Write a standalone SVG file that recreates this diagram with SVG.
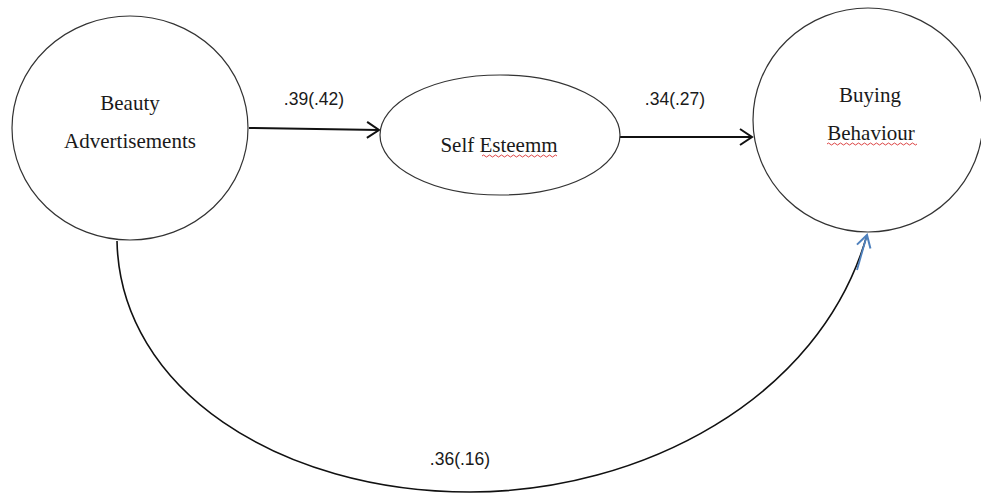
<svg xmlns="http://www.w3.org/2000/svg" width="981" height="493" viewBox="0 0 981 493">
<defs>
<style>
.node{fill:#fff;stroke:#333;stroke-width:1.2}
.ntext{font-family:"Liberation Serif","Times New Roman",serif;font-size:21px;fill:#1a1a1a;text-anchor:middle}
.lbl{font-family:"Liberation Sans",Arial,sans-serif;font-size:17.5px;fill:#1a1a1a;text-anchor:middle}
.conn{fill:none;stroke:#111;stroke-width:2}
.curve{fill:none;stroke:#111;stroke-width:1.6}
.squig{fill:none;stroke:#d93030;stroke-width:0.9}
</style>
<marker id="ah" viewBox="-14 -10 16 20" refX="0" refY="0" markerWidth="16" markerHeight="20" markerUnits="userSpaceOnUse" orient="auto" overflow="visible">
<path d="M-12,-8 L0,0 L-12,8" fill="none" stroke="#111" stroke-width="2"/>
</marker>
<marker id="ahb" viewBox="-14 -10 16 20" refX="0" refY="0" markerWidth="16" markerHeight="20" markerUnits="userSpaceOnUse" orient="auto" overflow="visible">
<path d="M-12,-7 L0,0 L-12,7" fill="none" stroke="#4f81bd" stroke-width="2"/>
</marker>
<linearGradient id="bl" x1="0" y1="0" x2="0" y2="1">
<stop offset="0" stop-color="#4f81bd"/><stop offset="1" stop-color="#111"/>
</linearGradient>
</defs>
<rect width="981" height="493" fill="#fff"/>
<g id="connectors">
<line class="conn" x1="249" y1="128" x2="379" y2="130" marker-end="url(#ah)"/>
<line class="conn" x1="620" y1="137" x2="752" y2="137" marker-end="url(#ah)"/>
<path class="curve" d="M117,241 C120,390 280,492 470,492 C640,492 820,400 867,235"/>
<path d="M857,270 L867,235" fill="none" stroke="#4f81bd" stroke-width="1.8" marker-end="url(#ahb)"/>
<text class="lbl" x="314" y="105">.39(.42)</text>
<text class="lbl" x="675" y="105">.34(.27)</text>
<text class="lbl" x="460" y="465">.36(.16)</text>
</g>
<g id="beauty">
<ellipse class="node" cx="130" cy="128" rx="118" ry="112"/>
<text class="ntext" x="130" y="110">Beauty</text>
<text class="ntext" x="130" y="148">Advertisements</text>
</g>
<g id="selfesteem">
<ellipse class="node" cx="500" cy="135" rx="120" ry="60"/>
<text class="ntext" x="499" y="152">Self Esteemm</text>
<path class="squig" d="M482,156 q1.5,-2 3,0 t3,0 t3,0 t3,0 t3,0 t3,0 t3,0 t3,0 t3,0 t3,0 t3,0 t3,0 t3,0 t3,0 t3,0 t3,0 t3,0 t3,0 t3,0 t3,0 t3,0 t3,0 t3,0 t3,0 t3,0"/>
</g>
<g id="buying">
<ellipse class="node" cx="868" cy="120" rx="115" ry="112"/>
<text class="ntext" x="870" y="102">Buying</text>
<text class="ntext" x="871" y="140">Behaviour</text>
<path class="squig" d="M827,144 q1.5,-2 3,0 t3,0 t3,0 t3,0 t3,0 t3,0 t3,0 t3,0 t3,0 t3,0 t3,0 t3,0 t3,0 t3,0 t3,0 t3,0 t3,0 t3,0 t3,0 t3,0 t3,0 t3,0 t3,0 t3,0 t3,0 t3,0 t3,0 t3,0 t3,0 t3,0"/>
</g>
</svg>
